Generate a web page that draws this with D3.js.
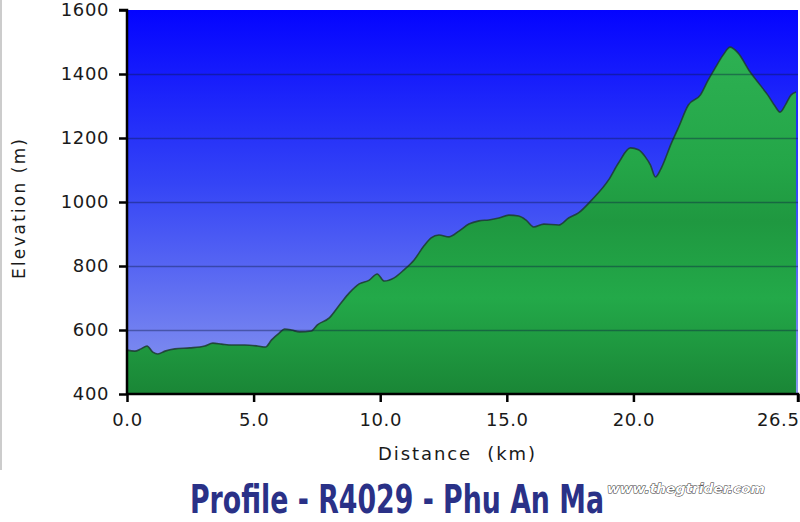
<!DOCTYPE html>
<html><head><meta charset="utf-8">
<script src="https://cdn.jsdelivr.net/npm/d3@7"></script>
<style>html,body{margin:0;padding:0;background:#fff;}svg{display:block;}</style>
</head><body>
<svg id="c" width="800" height="522"></svg>
<script>
const distanceKm = [0,0.31,0.55,0.79,1.02,1.22,1.50,1.89,2.48,3.07,3.39,3.74,4.13,4.65,5.16,5.47,5.71,6.02,6.22,6.50,6.81,7.28,7.52,7.99,8.39,8.78,9.17,9.57,9.88,10.16,10.55,10.94,11.34,11.73,12.01,12.32,12.72,13.11,13.50,13.90,14.29,14.69,15.08,15.47,15.75,16.06,16.46,17.05,17.44,17.83,18.35,19.02,19.41,19.88,20.20,20.47,20.67,20.87,21.10,21.50,21.77,22.17,22.64,22.95,23.23,23.54,23.82,24.13,24.61,25.00,25.31,25.59,25.79,26.02,26.22,26.42];
const elevationM = [537,534,541,550,531,525,534,541,544,550,559,556,553,553,550,547,569,591,603,600,594,597,616,638,678,716,744,756,775,753,763,788,819,863,888,897,891,909,931,941,944,950,959,956,944,922,931,928,950,966,1006,1069,1122,1169,1163,1141,1116,1078,1106,1184,1231,1303,1334,1381,1419,1459,1484,1466,1406,1366,1334,1300,1281,1306,1334,1344];
const xTicks = [0, 5, 10, 15, 20, 26.5];
const yTicks = [400, 600, 800, 1000, 1200, 1400, 1600];
const titleText = "Profile - R4029 - Phu An Ma";
const siteText = "www.thegtrider.com";
const xLabel = "Distance  (km)";
const yLabel = "Elevation (m)";

const data = distanceKm.map((d,i)=>({x:d, y:elevationM[i]}));
const svg = d3.select("#c");
const L=127, R=798, T=10, B=394;
const x = d3.scaleLinear().domain([0,26.5]).range([L,R]);
const y = d3.scaleLinear().domain([400,1600]).range([B,T]);
const FONT = "Verdana, DejaVu Sans, sans-serif";

const defs = svg.append("defs");
const bg = defs.append("linearGradient").attr("id","bg").attr("x1",0).attr("y1",0).attr("x2",0).attr("y2",1);
bg.append("stop").attr("offset","0%").attr("stop-color","#0404ff");
bg.append("stop").attr("offset","45%").attr("stop-color","#3444f6");
bg.append("stop").attr("offset","100%").attr("stop-color","#8a98ee");
const gr = defs.append("linearGradient").attr("id","gr").attr("gradientUnits","userSpaceOnUse")
  .attr("x1",0).attr("y1",T).attr("x2",0).attr("y2",B);
gr.append("stop").attr("offset","0%").attr("stop-color","#30b456");
gr.append("stop").attr("offset","40%").attr("stop-color","#24a648");
gr.append("stop").attr("offset","55%").attr("stop-color","#1f9840");
gr.append("stop").attr("offset","75%").attr("stop-color","#23a949");
gr.append("stop").attr("offset","100%").attr("stop-color","#1a8636");

svg.append("line").attr("x1",1).attr("x2",1).attr("y1",0).attr("y2",470).attr("stroke","#bbb").attr("stroke-width",1.5);

svg.append("rect").attr("x",L).attr("y",T).attr("width",R-L).attr("height",B-T).attr("fill","url(#bg)");

const area = d3.area().x(d=>x(d.x)).y0(B).y1(d=>y(d.y)).curve(d3.curveMonotoneX);
const line = d3.line().x(d=>x(d.x)).y(d=>y(d.y)).curve(d3.curveMonotoneX);
svg.append("path").datum(data).attr("d",area).attr("fill","url(#gr)");
svg.append("path").datum(data).attr("d",line).attr("fill","none").attr("stroke","#1d3b30").attr("stroke-width",1.6).attr("stroke-opacity",0.85);

svg.append("g").selectAll("line").data(yTicks.filter(v=>v>400&&v<1600)).join("line")
  .attr("x1",L).attr("x2",R).attr("y1",d=>y(d)+0.5).attr("y2",d=>y(d)+0.5)
  .attr("stroke","#0a1a40").attr("stroke-opacity",0.4).attr("stroke-width",1.5);

const yAxis = svg.append("g").attr("transform",`translate(${L},0)`)
  .call(d3.axisLeft(y).tickValues(yTicks).tickFormat(d3.format("d")).tickSize(8).tickPadding(10));
const xAxis = svg.append("g").attr("transform",`translate(0,${B})`)
  .call(d3.axisBottom(x).tickValues(xTicks).tickFormat(d3.format(".1f")).tickSize(8).tickPadding(11));
[yAxis,xAxis].forEach(g=>{
  g.select(".domain").attr("stroke","#000").attr("stroke-width",2.5);
  g.selectAll(".tick line").attr("stroke","#000").attr("stroke-width",2.5);
  g.selectAll("text").attr("font-family",FONT).attr("font-size",18).attr("letter-spacing",0.6).attr("fill","#1a1a1a");
});
xAxis.selectAll(".tick text").filter(d=>d===26.5).attr("text-anchor","end").attr("dx",1);
yAxis.select(".domain").attr("d",`M-8,${T}H0V${B}`);
xAxis.select(".domain").attr("d",`M${L},0H${R}V8`);

svg.append("text").attr("transform",`translate(25,209) rotate(-90)`).attr("text-anchor","middle")
  .attr("textLength",140).attr("lengthAdjust","spacing")
  .attr("font-family",FONT).attr("font-size",17).attr("fill","#1a1a1a").text(yLabel);
svg.append("text").attr("x",378).attr("y",460).attr("xml:space","preserve").style("white-space","pre")
  .attr("textLength",157).attr("lengthAdjust","spacing")
  .attr("font-family",FONT).attr("font-size",18).attr("fill","#1a1a1a").text(xLabel);

// title: fit natural width to 414px, then stretch vertically
const tWidth = 414, capH = 28;
const title = svg.append("text").attr("x",0).attr("y",0)
  .attr("font-family","DejaVu Sans Condensed, DejaVu Sans, sans-serif").attr("font-weight","bold").attr("font-size",30)
  .attr("fill","#2a3187").text(titleText);
const w0 = title.node().getComputedTextLength();
const fs = 30*tWidth/w0;
title.attr("font-size",fs);
const sy = capH/(0.73*fs);
title.attr("transform",`translate(190,513) scale(1,${sy})`);

svg.append("text").attr("x",607).attr("y",493).attr("textLength",158).attr("lengthAdjust","spacingAndGlyphs")
  .attr("font-family","DejaVu Sans, sans-serif").attr("font-style","italic").attr("font-weight","bold").attr("font-size",12.5)
  .attr("fill","#fff").attr("stroke","#333").attr("stroke-width",0.9).attr("paint-order","stroke").text(siteText);
</script>
</body></html>
